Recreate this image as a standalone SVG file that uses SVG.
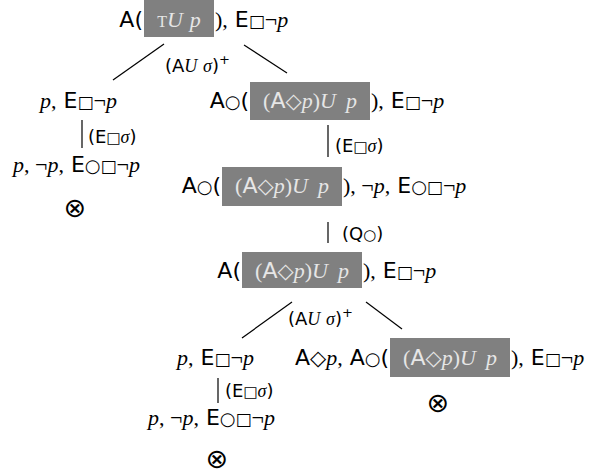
<svg xmlns="http://www.w3.org/2000/svg" width="589" height="474" viewBox="0 0 589 474">
<style>
text { fill:#000; font-size:22px; font-family:"DejaVu Sans", sans-serif; }
.m { font-family:"Liberation Serif", serif; font-style:italic; }
.r { font-family:"Liberation Serif", serif; font-style:normal; }
.sq { font-size:17px; }
.ci { font-size:18px; }
.dm { font-size:21px; }
.l { font-size:18px; }
.lq { font-size:15px; }
.ls { font-size:13px; }
.ot { font-size:27px; font-family:"DejaVu Sans", sans-serif; }
.w, .w tspan { fill:#e6e6e6; }
.bx { fill:#808080; }
.c { stroke:#000; stroke-width:1.2; fill:none; }
</style>

<g id="connectors">
  <line class="c" x1="164" y1="44" x2="113" y2="80"/>
  <line class="c" x1="244" y1="45" x2="287" y2="73"/>
  <text class="l" x="165" y="72">(A<tspan class="m">U</tspan> <tspan class="m">σ</tspan>)<tspan class="ls" dy="-8">+</tspan></text>
  <line class="c" x1="82" y1="120" x2="82" y2="148"/>
  <text class="l" x="88" y="143">(E<tspan class="lq">□</tspan><tspan class="m">σ</tspan>)</text>
  <line class="c" x1="328" y1="125" x2="328" y2="157"/>
  <text class="l" x="335" y="152">(E<tspan class="lq">□</tspan><tspan class="m">σ</tspan>)</text>
  <line class="c" x1="328" y1="222" x2="328" y2="243"/>
  <text class="l" x="342" y="240">(Q<tspan class="lq">○</tspan>)</text>
  <line class="c" x1="292" y1="302" x2="242" y2="338"/>
  <line class="c" x1="366" y1="302" x2="402" y2="329"/>
  <text class="l" x="288" y="325">(A<tspan class="m">U</tspan> <tspan class="m">σ</tspan>)<tspan class="ls" dy="-8">+</tspan></text>
  <line class="c" x1="218" y1="378" x2="218" y2="403"/>
  <text class="l" x="225" y="397">(E<tspan class="lq">□</tspan><tspan class="m">σ</tspan>)</text>
</g>

<g id="n1">
  <rect class="bx" x="144" y="0" width="70" height="37"/>
  <text x="143" y="27" text-anchor="end">A(</text>
  <text class="w" x="179" y="27" text-anchor="middle"><tspan class="r" font-size="16">T</tspan><tspan class="m">U</tspan> <tspan class="m">p</tspan></text>
  <text x="215" y="27"><tspan class="r">),</tspan> E<tspan class="sq">□</tspan><tspan class="r">¬</tspan><tspan class="m">p</tspan></text>
</g>

<g id="n2">
  <text x="40" y="108"><tspan class="m">p</tspan><tspan class="r">,</tspan> E<tspan class="sq">□</tspan><tspan class="r">¬</tspan><tspan class="m">p</tspan></text>
</g>

<g id="n3">
  <rect class="bx" x="250" y="82" width="120" height="38"/>
  <text x="249" y="108" text-anchor="end">A<tspan class="ci">○</tspan>(</text>
  <text class="w" x="310" y="108" text-anchor="middle"><tspan class="r">(</tspan>A<tspan class="dm">◇</tspan><tspan class="m">p</tspan><tspan class="r">)</tspan><tspan class="m">U</tspan><tspan class="m" dx="10">p</tspan></text>
  <text x="371" y="108"><tspan class="r">),</tspan> E<tspan class="sq">□</tspan><tspan class="r">¬</tspan><tspan class="m">p</tspan></text>
</g>

<g id="n4">
  <text x="13" y="172"><tspan class="m">p</tspan><tspan class="r">, ¬</tspan><tspan class="m">p</tspan><tspan class="r">,</tspan> E<tspan class="ci">○</tspan><tspan class="sq">□</tspan><tspan class="r">¬</tspan><tspan class="m">p</tspan></text>
</g>

<g id="n5">
  <text class="ot" x="75" y="217" text-anchor="middle">⊗</text>
</g>

<g id="n6">
  <rect class="bx" x="222" y="167" width="120" height="39"/>
  <text x="221" y="193" text-anchor="end">A<tspan class="ci">○</tspan>(</text>
  <text class="w" x="282" y="193" text-anchor="middle"><tspan class="r">(</tspan>A<tspan class="dm">◇</tspan><tspan class="m">p</tspan><tspan class="r">)</tspan><tspan class="m">U</tspan><tspan class="m" dx="10">p</tspan></text>
  <text x="343" y="193"><tspan class="r">), ¬</tspan><tspan class="m">p</tspan><tspan class="r">,</tspan> E<tspan class="ci">○</tspan><tspan class="sq">□</tspan><tspan class="r">¬</tspan><tspan class="m">p</tspan></text>
</g>

<g id="n7">
  <rect class="bx" x="242" y="252" width="120" height="36"/>
  <text x="241" y="278" text-anchor="end">A(</text>
  <text class="w" x="302" y="278" text-anchor="middle"><tspan class="r">(</tspan>A<tspan class="dm">◇</tspan><tspan class="m">p</tspan><tspan class="r">)</tspan><tspan class="m">U</tspan><tspan class="m" dx="10">p</tspan></text>
  <text x="363" y="278"><tspan class="r">),</tspan> E<tspan class="sq">□</tspan><tspan class="r">¬</tspan><tspan class="m">p</tspan></text>
</g>

<g id="n8">
  <text x="177" y="365"><tspan class="m">p</tspan><tspan class="r">,</tspan> E<tspan class="sq">□</tspan><tspan class="r">¬</tspan><tspan class="m">p</tspan></text>
</g>

<g id="n9">
  <rect class="bx" x="390" y="338" width="120" height="39"/>
  <text x="389" y="365" text-anchor="end">A<tspan class="dm">◇</tspan><tspan class="m">p</tspan><tspan class="r">,</tspan> A<tspan class="ci">○</tspan>(</text>
  <text class="w" x="450" y="365" text-anchor="middle"><tspan class="r">(</tspan>A<tspan class="dm">◇</tspan><tspan class="m">p</tspan><tspan class="r">)</tspan><tspan class="m">U</tspan><tspan class="m" dx="10">p</tspan></text>
  <text x="511" y="365"><tspan class="r">),</tspan> E<tspan class="sq">□</tspan><tspan class="r">¬</tspan><tspan class="m">p</tspan></text>
</g>

<g id="n10">
  <text x="148" y="425"><tspan class="m">p</tspan><tspan class="r">, ¬</tspan><tspan class="m">p</tspan><tspan class="r">,</tspan> E<tspan class="ci">○</tspan><tspan class="sq">□</tspan><tspan class="r">¬</tspan><tspan class="m">p</tspan></text>
</g>

<g id="n11">
  <text class="ot" x="217" y="468" text-anchor="middle">⊗</text>
</g>

<g id="n12">
  <text class="ot" x="438" y="412" text-anchor="middle">⊗</text>
</g>
</svg>
